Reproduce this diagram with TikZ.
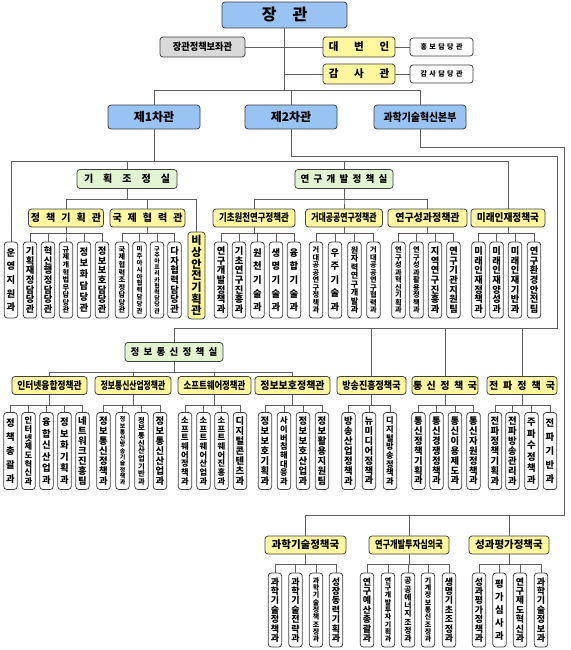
\documentclass[tikz,border=0pt]{standalone}
\usepackage{graphicx}
\usepackage{fontspec}
\setmainfont{Noto Sans CJK KR}
\definecolor{chiefblue}{HTML}{99C3F2}
\definecolor{staffgray}{HTML}{D9D9D9}
\definecolor{officegreen}{HTML}{E2F4D1}
\definecolor{bureauyellow}{HTML}{FFF89E}
\definecolor{edgegray}{HTML}{404040}
\definecolor{wiregray}{HTML}{5E5E5E}
\newcommand{\hsz}[1]{\fontsize{#1}{#1}\selectfont}
\newcommand{\wide}[1]{\spaceskip=#1em\relax}
\newcommand{\squeeze}[2]{\scalebox{#1}[1]{#2}}
% vertical labels: one character per line, spread over a fixed height
\newcount\vtcount
\def\vtcountchars#1#2\relax{\advance\vtcount by 1\relax\ifx\relax#2\relax\else\vtcountchars#2\relax\fi}
\def\vtstackchars#1#2\relax{\hbox to 12pt{\hss#1\hss}\ifx\relax#2\relax\else\vtstackchars#2\relax\fi}
\newcommand{\vtxt}[3][9.3]{%
  \edef\vtarg{#3}%
  \vtcount=0 \expandafter\vtcountchars\vtarg\relax
  \pgfmathsetmacro\vtstep{#2/\the\vtcount}%
  \pgfmathsetmacro\vtsize{min(#1,0.95*\vtstep)}%
  \fontsize{\vtsize pt}{\vtstep pt}\selectfont
  \vbox{\baselineskip=\vtstep pt\lineskiplimit=-\maxdimen\lineskip=0pt\expandafter\vtstackchars\vtarg\relax}}

\begin{document}
\begin{tikzpicture}[x=1pt,y=-1pt,
  box/.style={draw=edgegray, rounded corners=3pt, line width=.75pt, inner sep=0pt, font=\bfseries},
  chief/.style={box, fill=chiefblue, minimum width=92, minimum height=24, font=\bfseries\hsz{12}},
  staff/.style={box, fill=staffgray},
  office/.style={box, fill=officegreen, minimum width=98, minimum height=19, font=\bfseries\hsz{9.5}\wide{.45}},
  bureau/.style={box, fill=bureauyellow, minimum height=18, font=\bfseries\hsz{10.5}},
  desk/.style={box, fill=white, minimum width=63, minimum height=18, font=\bfseries\hsz{7}\wide{.35}},
  leaf/.style={box, fill=white, minimum width=13.5, minimum height=\leafh+8},
  link/.style={draw=wiregray, line width=.75pt}]
  \useasboundingbox (0,0) rectangle (570,650);
  \fill[white] (0,0) rectangle (570,650);
  \newcommand{\leafrow}[3]{\foreach \x/\lbl [count=\i] in {#3}
    {\node[leaf] (#2\i) at (\x,\leafy) {\vtxt{\leafh}{\lbl}};
     \draw[link] (#1.south) -- ++(0,\busd) -| (#2\i.north);}}
  % Minister and his staff
  \node[chief, minimum width=125, minimum height=26, font=\bfseries\hsz{16}] (minister) at (284.5,15) {장\hspace{1em}관};
  \node[staff, minimum width=85, minimum height=20, font=\bfseries\hsz{10}] (advisor) at (202.5,47) {\squeeze{.92}{장관정책보좌관}};
  \node[bureau, minimum width=72, minimum height=20] (spokes) at (359,47) {대\hspace{1.5em}변\hspace{1.5em}인};
  \node[desk] (prdesk) at (441.5,47) {홍 보 담 당 관};
  \node[bureau, minimum width=72, minimum height=20] (auditor) at (359,74) {감\hspace{1.5em}사\hspace{1.5em}관};
  \node[desk] (auditdesk) at (441.5,74) {감 사 담 당 관};
  \node[chief] (vice1) at (154,117) {제1차관};
  \node[chief] (vice2) at (291,117) {제2차관};
  \node[chief, font=\bfseries\hsz{11}] (sthq) at (420,117) {\squeeze{.9}{과학기술혁신본부}};
  \draw[link] (advisor.east) -- (spokes.west);
  \draw[link] (auditor.west) -- (auditor.west -| minister.south);
  \draw[link] (spokes.east) -- (prdesk.west);
  \draw[link] (auditor.east) -- (auditdesk.west);
  \foreach \n in {vice1,vice2,sthq} \draw[link] (minister.south) -- ++(0,62) -| (\n.north);
  % First vice minister
  \def\leafy{280}\def\leafh{68}\def\busd{6}
  \node[leaf] (opsup) at (11,\leafy) {\vtxt{\leafh}{운영지원과}};
  \node[office, minimum width=100, font=\bfseries\hsz{10}\wide{1}] (planoff) at (127,179) {기 획 조 정 실};
  \node[office] (rndoff) at (344,179) {연 구 개 발 정 책 실};
  \node[bureau, minimum width=75, font=\bfseries\hsz{10}\wide{.6}] (policy) at (66,218) {정 책 기 획 관};
  \node[bureau, minimum width=75, font=\bfseries\hsz{10}\wide{.6}] (intl) at (147.5,218) {국 제 협 력 관};
  \node[bureau, minimum width=17, minimum height=87] (safety) at (196.5,275.5) {\vtxt[12]{82}{비상안전기획관}};
  \node[bureau, minimum width=82] (basic) at (254,218) {\squeeze{.8}{기초원천연구정책관}};
  \node[bureau, minimum width=77] (bigsci) at (344,218) {\squeeze{.75}{거대공공연구정책관}};
  \node[bureau, minimum width=79] (outcome) at (427.5,218) {\squeeze{.95}{연구성과정책관}};
  \node[bureau, minimum width=74] (talent) at (508,218) {\squeeze{.92}{미래인재정책국}};
  \foreach \n in {opsup,planoff,rndoff,talent} \draw[link] (vice1.south) -- ++(0,32) -| (\n.north);
  \foreach \n in {policy,intl,safety} \draw[link] (planoff.south) -- ++(0,10.5) -| (\n.north);
  \foreach \n in {basic,bigsci,outcome} \draw[link] (rndoff.south) -- ++(0,10.5) -| (\n.north);
  \leafrow{policy}{pol}{30/기획재정담당관,48/혁신행정담당관,66/규제개혁법무담당관,84/정보화담당관,102/정보보호담당관}
  \leafrow{intl}{int}{122/국제협력조정담당관,139.5/미주아시아협력담당관,157/구주아프리카협력담당관,174.5/다자협력담당관}
  \leafrow{basic}{bas}{221/연구개발정책과,239/기초연구진흥과,257.5/원천기술과,276/생명기술과,294/융합기술과}
  \leafrow{bigsci}{big}{316/거대공공연구정책과,335/우주기술과,354.5/원자력연구개발과,373.5/거대공공연구협력과}
  \leafrow{outcome}{out}{398.5/연구성과혁신기획과,416.5/연구성과활용정책과,435/지역연구진흥과,453.5/연구기관지원팀}
  \leafrow{talent}{tal}{478.5/미래인재정책과,496.5/미래인재양성과,515/미래인재기반과,534/연구환경안전팀}
  % Second vice minister
  \def\leafy{451}\def\leafh{69}\def\busd{10.5}
  \node[office] (ictoff) at (174,352) {정 보 통 신 정 책 실};
  \node[bureau, minimum width=75] (inet) at (49.5,385.5) {\squeeze{.83}{인터넷융합정책관}};
  \node[bureau, minimum width=76] (ictind) at (133,385.5) {\squeeze{.74}{정보통신산업정책관}};
  \node[bureau, minimum width=73] (swpol) at (214.5,385.5) {\squeeze{.8}{소프트웨어정책관}};
  \node[bureau, minimum width=75] (secpol) at (292.5,385.5) {\squeeze{.95}{정보보호정책관}};
  \node[bureau, minimum width=69] (bcast) at (371.5,385.5) {\squeeze{.86}{방송진흥정책국}};
  \node[bureau, minimum width=66, font=\bfseries\hsz{10}\wide{.45}] (telecom) at (445,385.5) {통 신 정 책 국};
  \node[bureau, minimum width=70, font=\bfseries\hsz{10}\wide{.5}] (radio) at (522,385.5) {전 파 정 책 국};
  \coordinate (bend2a) at (557,156); \coordinate (bend2b) at (557,328);
  \draw[link] (vice2.south) |- (bend2a) -- (bend2b) -| (ictoff.north);
  \foreach \n in {bcast,telecom,radio} \draw[link] (bend2b) -| (\n.north);
  \foreach \n in {inet,ictind,swpol,secpol} \draw[link] (ictoff.south) -- ++(0,10) -| (\n.north);
  \leafrow{inet}{net}{10.5/정책총괄과,28.5/인터넷제도혁신과,46.5/융합신산업과,64.5/정보화기획과,82.5/네트워크진흥팀}
  \leafrow{ictind}{ind}{103.5/정보통신정책과,122.5/정보통신방송기술정책과,141.5/정보통신산업기반과,160/정보통신산업과}
  \leafrow{swpol}{sw}{185/소프트웨어정책과,203.5/소프트웨어산업과,221.5/소프트웨어진흥과,240/디지털콘텐츠과}
  \leafrow{secpol}{sec}{265/정보보호기획과,284/사이버침해대응과,303/정보보호산업과,322/정보활용지원팀}
  \leafrow{bcast}{bc}{348.5/방송산업정책과,369/뉴미디어정책과,390/디지털방송정책과}
  \leafrow{telecom}{tel}{418.5/통신정책기획과,436.5/통신경쟁정책과,455/통신이용제도과,473.5/통신자원정책과}
  \leafrow{radio}{rad}{495/전파정책기획과,512.5/전파방송관리과,531.5/주파수정책과,550/전파기반과}
  % Science and technology headquarters
  \def\leafy{610}\def\leafh{66}\def\busd{10}
  \node[bureau, minimum width=81] (stpol) at (305.5,545) {과학기술정책국};
  \node[bureau, minimum width=80] (rdinv) at (409,545) {\squeeze{.78}{연구개발투자심의국}};
  \node[bureau, minimum width=80] (evalb) at (509,545) {성과평가정책국};
  \coordinate (bend3a) at (564,147); \coordinate (bend3b) at (564,515);
  \draw[link] (sthq.south) |- (bend3a) -- (bend3b) -| (stpol.north);
  \foreach \n in {rdinv,evalb} \draw[link] (bend3b) -| (\n.north);
  \leafrow{stpol}{stp}{275/과학기술정책과,295.5/과학기술전략과,316/과학기술정책조정과,336/성장동력기획과}
  \leafrow{rdinv}{inv}{367/연구예산총괄과,388/연구개발투자기획과,408/공공에너지조정과,428/기계정보통신조정과,449/생명기초조정과}
  \leafrow{evalb}{evl}{479/성과평가정책과,499.5/평가심사과,520/연구제도혁신과,541/과학기술정보과}
\end{tikzpicture}
\end{document}
